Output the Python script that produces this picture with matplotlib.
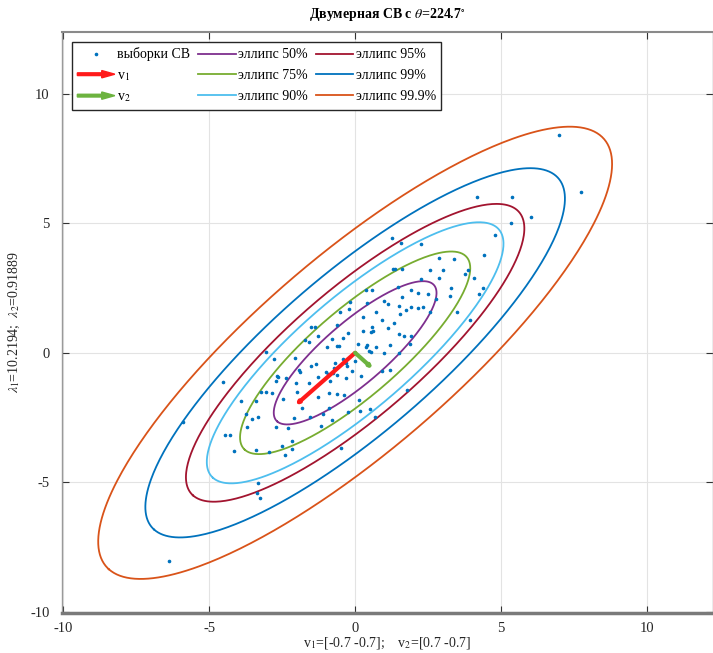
import numpy as np
import matplotlib
matplotlib.use("Agg")
import matplotlib.pyplot as plt
import matplotlib.patches as mpatches
from matplotlib.lines import Line2D
from matplotlib.legend_handler import HandlerPatch

plt.rcParams['font.family'] = ['Liberation Serif', 'DejaVu Serif']
plt.rcParams['mathtext.fontset'] = 'stix'
plt.rcParams['axes.unicode_minus'] = False

# eigen decomposition shown in the chart
theta_deg = 224.7
lambda1 = 10.2194
lambda2 = 0.91889

# confidence levels of the ellipses and their colours (MATLAB default order)
levels = [0.50, 0.75, 0.90, 0.95, 0.99, 0.999]
level_labels = ['эллипс 50%', 'эллипс 75%', 'эллипс 90%',
                'эллипс 95%', 'эллипс 99%', 'эллипс 99.9%']
level_colors = ['#7e2f8e', '#77ac30', '#4dbeee', '#a2142f', '#0072bd', '#d95319']

# samples
sample_x = [1.27, 1.58, 2.27, 1.31, 1.36, 1.62, 2.57, 2.27, 0.37, 0.58,
            1.46, 1.93, 2.17, 1.62, 2.49, 0.98, 1.13, 0.42, -0.18, 1.51,
            1.93, 2.14, 2.31, 1.76, 2.58, 2.77, -0.51, -0.20, 0.72, 1.55,
            0.27, 0.93, 1.33, -0.63, 0.58, 0.61, 0.55, -1.51, -1.37, 0.28,
            1.14, 1.50, 1.66, 1.92, -1.28, -0.79, -0.40, -0.24, -1.71, -1.59,
            0.09, 0.37, 0.41, 0.71, 1.19, 1.88, -0.61, -0.54, -0.97, 0.46,
            0.54, 1.50, 0.99, -3.07, -2.78, -2.06, -1.33, -1.51, -0.69, -0.72,
            -0.42, -0.32, -0.28, 0.01, -0.11, -1.92, -1.88, -0.99, -0.93, -0.76,
            -0.63, -0.31, -1.26, -0.85, 0.20, 0.92, 1.19, 1.78, -2.68, -2.64,
            -2.72, -2.37, -2.03, -1.58, -4.54, -3.23, -3.07, -2.85, -2.00, -1.28,
            -0.89, -0.62, -0.39, -3.92, -3.39, -3.74, -3.33, -3.53, -2.73, -3.71,
            -4.45, -4.29, -4.15, -3.39, -2.94, -2.50, -2.39, -2.18, -2.16, -2.31,
            -1.81, -2.09, -1.54, -1.16, -0.80, -0.25, 0.15, -0.50, -3.33, -3.37,
            -3.26, -5.89, -6.37, -1.10, -0.88, 0.14, 0.51, 0.69, -2.46, 6.98,
            4.18, 5.39, 6.03, 5.35, 4.79, 4.41, 2.89, 3.40, 3.02, 3.76,
            3.88, 2.87, 4.09, 3.29, 4.37, 4.24, 3.26, 3.50, 3.95, 7.75]
sample_y = [4.43, 4.26, 4.22, 3.25, 3.24, 3.25, 3.20, 2.86, 2.41, 2.43,
            2.56, 2.42, 2.32, 2.17, 2.28, 2.02, 1.90, 1.94, 1.96, 1.81,
            1.75, 1.73, 1.78, 1.66, 1.56, 2.06, 1.59, 1.70, 1.58, 1.51,
            1.39, 1.27, 1.17, 1.07, 1.00, 0.86, 0.81, 1.00, 0.98, 0.86,
            0.94, 0.71, 0.66, 0.63, 0.63, 0.53, 0.58, 0.78, 0.51, 0.42,
            0.35, 0.22, 0.31, 0.24, 0.30, 0.35, 0.27, 0.27, 0.22, 0.08,
            0.03, -0.01, 0.01, 0.05, -0.24, -0.19, -0.42, -0.50, -0.40, -0.57,
            -0.24, -0.39, -0.50, -0.31, -0.72, -0.66, -0.76, -0.76, -0.81, -0.78,
            -0.84, -0.98, -0.94, -1.07, -0.89, -0.71, -0.68, -1.42, -0.88, -0.93,
            -1.07, -0.99, -1.16, -1.17, -1.11, -1.51, -1.53, -1.54, -1.53, -1.69,
            -1.56, -1.58, -1.63, -1.88, -1.88, -2.38, -2.46, -2.56, -2.87, -2.85,
            -3.19, -3.17, -3.81, -3.75, -3.85, -3.59, -3.95, -3.39, -3.72, -2.91,
            -2.14, -2.51, -2.46, -2.82, -2.59, -2.29, -2.23, -3.68, -5.03, -5.42,
            -5.61, -2.69, -8.04, -2.36, -2.12, -1.84, -2.16, -2.48, -1.78, 8.42,
            6.01, 6.01, 5.26, 5.01, 4.54, 3.76, 3.68, 3.62, 3.20, 3.04,
            3.19, 2.90, 2.88, 2.51, 2.51, 2.28, 2.19, 1.58, 1.25, 6.20]

blue = '#0072bd'
red = '#ff1a1a'
green = '#6cb33f'

th = np.deg2rad(theta_deg)
v1 = np.array([np.cos(th), np.sin(th)])
v2 = np.array([-np.sin(th), np.cos(th)])
if v2[0] < 0:
    v2 = -v2

fig = plt.figure(figsize=(7.13, 6.53), dpi=100)
ax = fig.add_axes([0.087, 0.062, 0.913, 0.889])

ax.plot(sample_x, sample_y, '.', color=blue, ms=3.2, label='выборки СВ', zorder=3)

# arrows: quiver-like, 0.9 * sqrt(lambda) * v
scale = 0.9
for vec, lam, col in [(v1, lambda1, red), (v2, lambda2, green)]:
    end = scale * np.sqrt(lam) * vec
    ax.annotate('', xy=end, xytext=(0, 0),
                arrowprops=dict(arrowstyle='-|>', color=col, lw=3.0,
                                mutation_scale=3, shrinkA=0, shrinkB=0),
                zorder=4)

t = np.linspace(0, 2 * np.pi, 400)
ell_handles = []
for p, lab, col in zip(levels, level_labels, level_colors):
    q = -2.0 * np.log(1.0 - p)
    pts = (np.sqrt(q * lambda1) * np.outer(np.cos(t), v1)
           + np.sqrt(q * lambda2) * np.outer(np.sin(t), v2))
    line, = ax.plot(pts[:, 0], pts[:, 1], color=col, lw=1.3, label=lab, zorder=2)
    ell_handles.append(line)

ax.set_xlim(-10.05, 12.27)
ax.set_ylim(-10.03, 12.39)
ax.set_xticks([-10, -5, 0, 5, 10])
ax.set_yticks([-10, -5, 0, 5, 10])
ax.grid(True, color='#e3e3e3', lw=0.8)
ax.set_axisbelow(True)
ax.tick_params(direction='in', length=5, width=0.8, color='#333333',
               labelsize=10.5, labelcolor='#262626', top=True, right=True)
ax.tick_params(axis='x', pad=7)
ax.tick_params(axis='y', pad=9)
for side in ['left', 'right']:
    ax.spines[side].set_color('#9a9a9a')
    ax.spines[side].set_linewidth(1.0)
ax.spines['top'].set_color('#8a8a8a')
ax.spines['top'].set_linewidth(1.5)
ax.spines['bottom'].set_color('#7a7a7a')
ax.spines['bottom'].set_linewidth(2.5)

ax.set_title(r'Двумерная СВ с $\theta$=224.7$^{\circ}$', fontsize=10,
             fontweight='bold', pad=10)
ax.set_xlabel(r'v$_1$=[-0.7 -0.7];    v$_2$=[0.7 -0.7]', fontsize=10,
              color='#262626', labelpad=0)
ax.set_ylabel(r'$\lambda_1$=10.2194;  $\lambda_2$=0.91889', fontsize=10,
              color='#262626', labelpad=6)

# legend with arrow handles
def make_arrow(legend, orig_handle, xdescent, ydescent, width, height, fontsize):
    return mpatches.FancyArrow(-xdescent, 0.5 * height - ydescent, width, 0,
                               length_includes_head=True, width=0.28 * height,
                               head_width=0.75 * height, head_length=0.35 * width)

arrow1 = mpatches.Patch(color=red, label='v$_1$')
arrow2 = mpatches.Patch(color=green, label='v$_2$')
dot_handle = Line2D([], [], ls='none', marker='.', ms=3.2, color=blue)
handles = [dot_handle, arrow1, arrow2] + ell_handles
labels = ['выборки СВ', 'v$_1$', 'v$_2$'] + level_labels
leg = ax.legend(handles, labels, ncol=3, loc='upper left',
                bbox_to_anchor=(0.015, 0.983), borderaxespad=0,
                fontsize=10, handlelength=2.7, handletextpad=0.15,
                columnspacing=0.6, labelspacing=0.55, borderpad=0.4,
                fancybox=False, framealpha=1,
                handler_map={arrow1: HandlerPatch(patch_func=make_arrow),
                             arrow2: HandlerPatch(patch_func=make_arrow)})
leg.get_frame().set_edgecolor('#262626')
leg.get_frame().set_linewidth(1.0)

fig.savefig('out.png', dpi=100)
